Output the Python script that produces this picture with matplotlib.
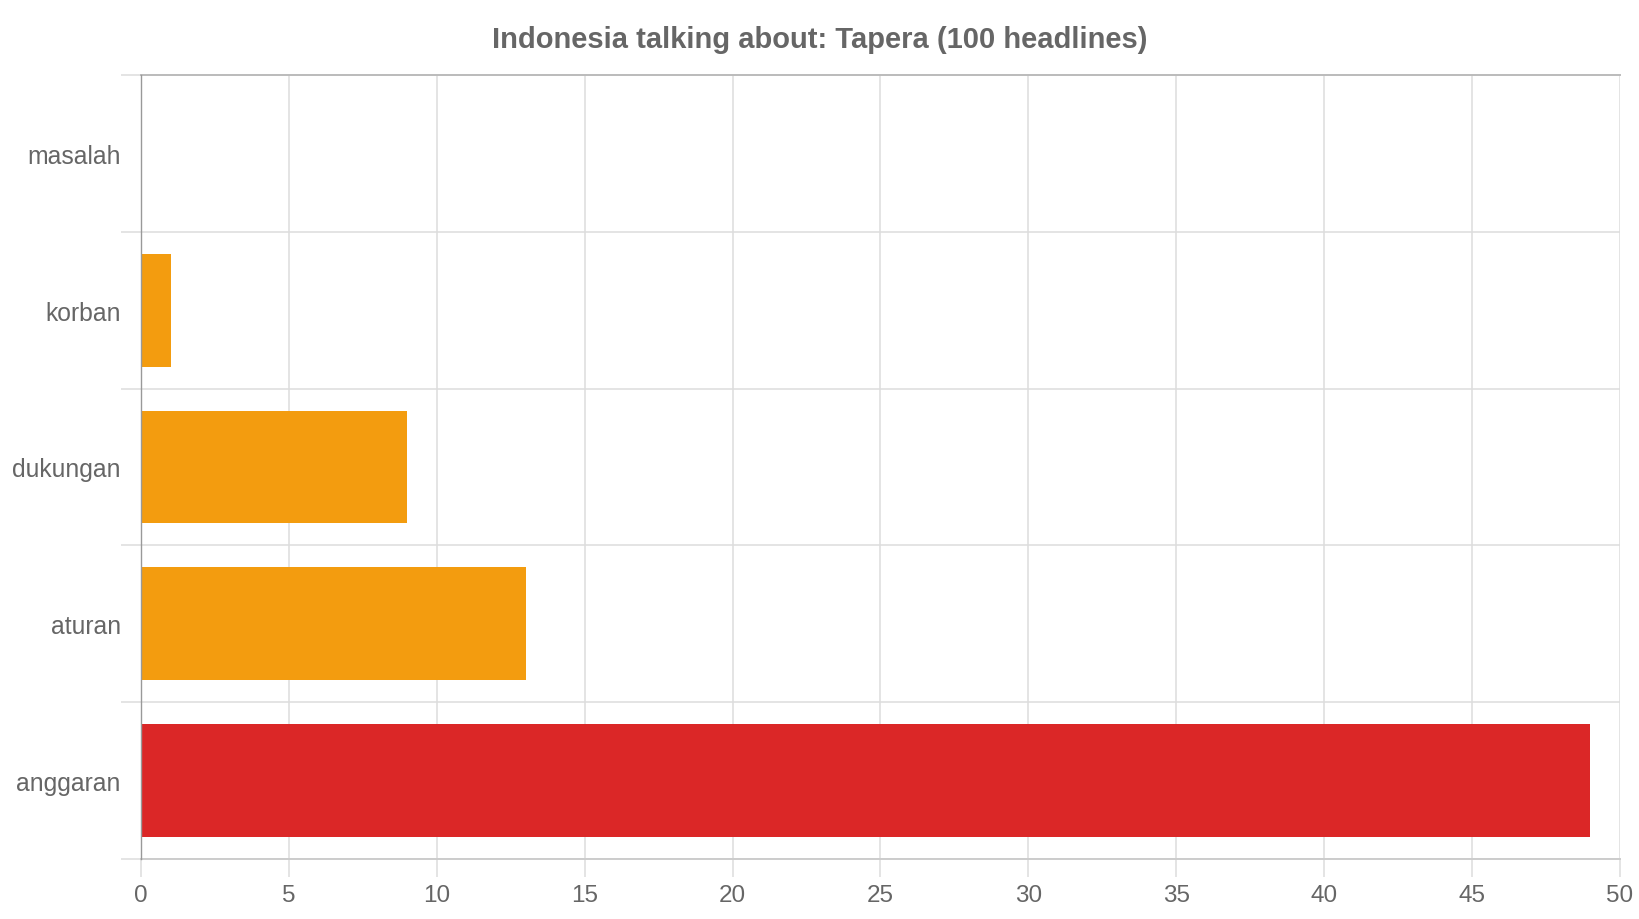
import numpy as np
import matplotlib
matplotlib.use("Agg")
import matplotlib.pyplot as plt

plt.rcParams['font.family'] = ['Liberation Sans', 'DejaVu Sans']

# data, top to bottom as shown
categories = ['masalah', 'korban', 'dukungan', 'aturan', 'anggaran']
counts = [0, 1, 9, 13, 49]
bar_colors = ['#F39C0F', '#F39C0F', '#F39C0F', '#F39C0F', '#DB2727']
x_ticks = [0, 5, 10, 15, 20, 25, 30, 35, 40, 45, 50]

fig = plt.figure(figsize=(16.4, 9.2), dpi=100)
# axes box in pixels: left 141, right 1620, top 76, bottom 860
ax = fig.add_axes([141 / 1640, 1 - 860 / 920, (1620 - 141) / 1640, (860 - 76) / 920])

y = np.arange(len(categories))
ax.barh(y, counts, height=0.72, color=bar_colors, zorder=3)

ax.set_xlim(0, 50)
ax.set_ylim(len(categories) - 0.5, -0.5)

# x axis
ax.set_xticks(x_ticks)
ax.set_xticklabels([str(t) for t in x_ticks])
ax.tick_params(axis='x', length=13, width=1.1, color='#dddddd', pad=5,
               labelsize=17.5, labelcolor='#666666')
ax.xaxis.grid(True, color='#dddddd', linewidth=1.1, zorder=0)

# y axis: labels at centres, ticks and grid at boundaries
ax.set_yticks(y)
ax.set_yticklabels(categories)
ax.tick_params(axis='y', which='major', length=0, pad=14.5,
               labelsize=17.8, labelcolor='#666666')
bounds = np.arange(-0.5, len(categories), 1.0)
ax.set_yticks(bounds, minor=True)
ax.tick_params(axis='y', which='minor', length=14.5, width=1.1, color='#dddddd')
ax.yaxis.grid(True, which='minor', color='#dddddd', linewidth=1.1, zorder=0)

ax.spines['right'].set_visible(False)
ax.spines['left'].set_color('#999999')
ax.spines['left'].set_linewidth(1.0)
ax.spines['left'].set_zorder(4)
ax.spines['top'].set_color('#bbbbbb')
ax.spines['top'].set_linewidth(1.4)
ax.spines['bottom'].set_color('#cccccc')
ax.spines['bottom'].set_linewidth(1.4)

fig.text(0.5, 1 - 40 / 920, 'Indonesia talking about: Tapera (100 headlines)',
         ha='center', va='center', fontsize=21, fontweight='bold', color='#666666')

fig.savefig('out.png', dpi=100, facecolor='white')
